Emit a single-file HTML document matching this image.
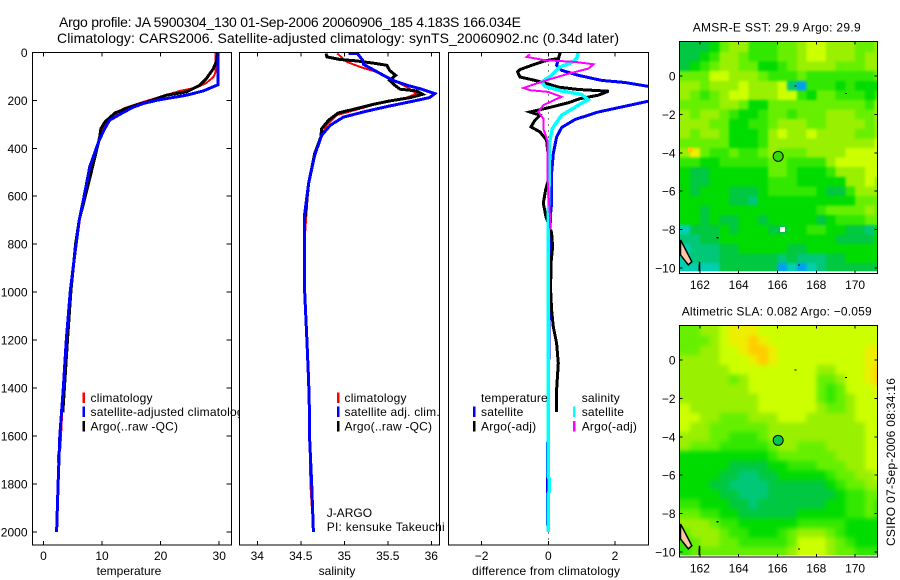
<!DOCTYPE html>
<html>
<head>
<meta charset="utf-8">
<title>Argo profile</title>
<style>
html,body{margin:0;padding:0;background:#fff;}
svg{display:block;}
text{font-family:"Liberation Sans",Arial,sans-serif;font-size:12px;fill:#000;}
.crisp{shape-rendering:crispEdges;}
.legend{letter-spacing:0.2px;}
</style>
</head>
<body>
<svg id="chart" xmlns="http://www.w3.org/2000/svg" width="900" height="580" viewBox="0 0 900 580">
  <defs>
    <clipPath id="clip-temp"><rect x="32.3" y="52.3" width="199" height="492.7"/></clipPath>
    <clipPath id="clip-sal"><rect x="239.3" y="52.3" width="200" height="492.7"/></clipPath>
    <clipPath id="clip-diff"><rect x="448.3" y="52.3" width="200" height="492.7"/></clipPath>
    <clipPath id="clip-sst"><rect x="679.3" y="41.7" width="198.4" height="229.5"/></clipPath>
    <clipPath id="clip-sla"><rect x="679.3" y="325.7" width="198.4" height="229.5"/></clipPath>
    <filter id="soft-sst" x="-10%" y="-10%" width="120%" height="120%" color-interpolation-filters="sRGB"><feGaussianBlur stdDeviation="1.3"/></filter>
    <filter id="soft-sla" x="-10%" y="-10%" width="120%" height="120%" color-interpolation-filters="sRGB"><feGaussianBlur stdDeviation="2.5"/></filter>
  </defs>
  <rect width="900" height="580" fill="#fff"/>
  <text x="59" y="27" style="font-size:14px" textLength="462" lengthAdjust="spacing">Argo profile: JA 5900304_130 01-Sep-2006 20060906_185 4.183S 166.034E</text>
  <text x="57" y="43" style="font-size:14px" textLength="562" lengthAdjust="spacing">Climatology: CARS2006. Satellite-adjusted climatology: synTS_20060902.nc (0.34d later)</text>
  <g id="layer-temp"></g>
  <g id="layer-sal"></g>
  <g id="layer-diff"></g>
  <g id="layer-sst"></g>
  <g id="layer-sla"></g>
  <text transform="translate(895,546) rotate(-90)" textLength="168" lengthAdjust="spacing">CSIRO 07-Sep-2006 08:34:16</text>
</svg>
<script>
// ---------- profile data ----------
const depthTicks = [0,200,400,600,800,1000,1200,1400,1600,1800,2000];
const tempTicks = [0,10,20,30];
const salTicks = [34,34.5,35,35.5,36];
const salTickLabels = ["34","34.5","35","35.5","36"];
const diffTicks = [-2,0,2];
const diffTickLabels = ["\u22122","0","2"];

const tempClimDepth = [0,60,82,103,128,147,161,186,211,235,270,304,353,492,700,1000,1400,1650,1680,1800,2000];
const tempClim = [29.4,29.4,29.4,29,27.8,26.1,23.3,19.9,16.5,13.6,11.6,10.5,9.6,7.9,6.2,4.6,3.4,2.9,2.5,2.6,2.25];
const tempSatDepth = [0,130,135,161,179,200,214,229,255,283,317,367,478,617,700,795,990,1198,1394,1600,1800,2000];
const tempSat = [29.8,29.8,29.8,27.3,24.4,19.3,17,15.3,13.3,11.3,10.5,9.5,7.9,6.8,6.1,5.6,4.6,3.9,3.4,2.8,2.5,2.25];
const tempArgoDepth = [0,33,68,110,137,165,179,207,228,253,290,318,353,436,575,700,795,990,1198,1394,1500];
const tempArgo = [29.7,29.6,29,27.8,26.7,24.4,21,17.6,14.8,12.2,10.5,9.8,9.6,8.8,7.4,6.1,5.5,4.7,4.1,3.6,3.3];

const salClimDepth = [5,40,61,82,110,145,172,189,207,235,262,304,346,429,547,800,1000,1200,1400,1600,1800,2000];
const salClim = [34.92,35.03,35.18,35.37,35.53,35.72,35.83,35.72,35.45,35.18,34.91,34.8,34.74,34.66,34.59,34.54,34.545,34.57,34.59,34.6,34.61,34.645];
const salSatDepth = [5,5.1,33,50,72,96,117,137,154,172,189,204,224,245,270,304,346,429,547,686,800,1000,1200,1367,1505,1600,1800,2000];
const salSat = [35.05,35.15,35.21,35.22,35.33,35.45,35.56,35.72,35.89,36.04,35.98,35.79,35.52,35.26,34.99,34.84,34.74,34.66,34.59,34.54,34.54,34.545,34.57,34.59,34.6,34.6,34.625,34.645];
const salArgoDepth = [5,19,30,36,45,54,75,96,117,137,154,161,175,189,203,217,238,253,283,318,353,422,547,686];
const salArgo = [34.79,34.8,34.95,35.14,35.33,35.49,35.52,35.59,35.52,35.58,35.64,35.83,35.9,35.76,35.52,35.33,35.1,34.93,34.82,34.74,34.73,34.66,34.59,34.55];

const diffTempSatDepth = [0,33,54,75,96,117,126,142,172,204,228,249,280,314,353,422,505,574,629,686,880,1200,1780,1950,2000];
const diffTempSat = [0.35,0.3,0.25,0.4,0.9,1.6,2.3,3,5,3,2.2,1.5,0.8,0.4,0.25,0.15,0.1,0.1,0.1,0.06,0.05,0.02,-0.03,-0.03,0];
const diffTempArgoDepth = [0,5,26,36,54,72,82,103,114,128,145,155,162,179,193,210,228,249,262,283,311,332,367,505,574,629,686,753,811,878,990,1074,1144,1213,1296,1408,1500];
const diffTempArgo = [0.35,0.35,0.3,-0.1,-0.5,-0.85,-0.92,-0.85,-0.5,-0.1,0.3,0.9,1.81,1.5,0.96,0.6,0.1,-0.55,-0.25,-0.4,-0.52,-0.25,-0.05,0.05,-0.08,-0.15,-0.07,0.1,0.13,0.08,0.07,0.1,0.15,0.25,0.3,0.25,0.25];
const diffSalSatDepth = [0,26,43,61,96,124,142,161,176,197,221,262,318,380,505,686,1000,1770,1780,1830,1840,2000];
const diffSalSat = [0.9,0.85,0.7,0.35,0.1,-0.2,-0.1,0.4,1,1.19,0.9,0.4,0.12,0.03,0.03,0,0,0,0.03,0.03,0,0];
const diffSalArgoDepth = [8,19,33,40,50,68,89,110,130,149,158,165,186,197,221,249,276,318,367,533,686,740];
const diffSalArgo = [-0.55,-0.65,-0.1,0.8,1.36,1.2,0.6,0.1,-0.35,-0.75,-0.55,0,0.4,0.2,-0.15,-0.3,-0.15,-0.15,-0.03,-0.02,0.05,0.06];

// ---------- map data ----------
const mapLons = [161.25,161.75,162.25,162.75,163.25,163.75,164.25,164.75,165.25,165.75,166.25,166.75,167.25,167.75,168.25,168.75,169.25,169.75,170.25,170.75,171.25];
const mapLats = [1.5,1,0.5,0,-0.5,-1,-1.5,-2,-2.5,-3,-3.5,-4,-4.5,-5,-5.5,-6,-6.5,-7,-7.5,-8,-8.5,-9,-9.5,-10];
const colorLevels = ["#0050d0","#00a0f0","#00d0b0","#00c878","#00c840","#00dc00","#33e800","#66f000","#99f000","#ccff00","#eeee00","#ffcc00"];
const lonTicks = [162,164,166,168,170];
const latTicks = [0,-2,-4,-6,-8,-10];
const latTickLabels = ["0","\u22122","\u22124","\u22126","\u22128","\u221210"];
const argoLon = 166.034;
const argoLat = -4.183;

const sstLevels = [
[4,4,4,5,7,8,8,6,6,6,7,7,8,9,9,8,8,8,7,7,8],
[4,4,5,6,8,8,7,6,6,6,7,7,8,9,9,8,8,8,7,8,8],
[4,5,6,7,8,8,7,7,5,5,6,7,8,8,8,8,7,7,7,8,8],
[7,7,7,9,9,8,8,8,7,6,6,6,7,6,6,6,6,6,6,6,7],
[8,8,7,8,8,8,9,8,8,8,9,3,1,6,6,6,5,6,5,5,5],
[8,7,6,7,8,9,9,8,8,8,9,9,6,5,7,7,6,6,6,5,6],
[7,7,7,7,8,8,7,5,5,7,7,7,7,7,7,7,7,7,7,6,8],
[8,7,8,8,7,6,5,5,6,7,7,6,7,7,7,8,8,8,7,7,8],
[8,8,8,7,7,5,5,6,6,7,8,8,8,7,7,8,8,8,8,7,8],
[8,7,8,8,7,5,5,5,6,8,9,8,8,9,8,8,8,8,7,7,8],
[7,7,7,7,7,5,5,5,6,8,8,8,8,8,8,8,8,8,8,8,9],
[8,10,7,6,6,7,6,6,7,8,7,7,7,8,8,8,8,9,9,9,9],
[6,6,5,5,6,6,6,6,6,7,7,6,6,6,6,8,9,9,9,9,9],
[5,4,4,5,5,5,5,5,5,7,7,6,5,5,5,6,8,8,8,9,9],
[5,4,4,5,5,5,5,5,5,6,6,6,5,5,5,5,5,8,8,9,8],
[5,4,5,5,5,4,4,4,5,6,6,6,6,6,5,4,4,6,8,8,8],
[5,5,5,5,5,4,4,3,5,5,5,5,5,5,5,5,5,5,7,7,7],
[5,5,4,5,5,5,5,5,5,5,5,5,5,5,6,7,7,7,7,8,7],
[5,5,4,5,4,4,5,5,4,5,5,5,5,5,4,5,6,6,6,7,7],
[2,4,4,4,5,4,5,5,5,4,4,5,5,6,6,5,5,4,4,3,5],
[3,3,4,4,5,5,5,5,5,5,5,5,5,5,5,5,4,4,4,4,5],
[2,3,3,3,4,4,5,5,5,5,5,4,4,5,5,5,5,5,5,5,5],
[2,3,3,3,4,4,4,4,4,4,3,4,3,3,3,4,4,5,5,5,5],
[2,2,2,2,4,4,4,4,4,4,1,2,1,2,3,4,4,4,4,4,4]
];
const slaLevels = [
[7,7,8,8,9,10,10,10,9,9,9,9,9,9,9,9,9,9,9,9,9],
[7,7,7,8,9,10,10,11,10,9,9,9,9,9,9,9,9,9,9,9,9],
[7,7,8,8,9,9,10,11,11,10,9,9,9,9,9,9,9,9,9,10,10],
[8,8,8,8,9,9,9,10,11,10,9,9,9,9,9,9,9,9,9,10,10],
[8,8,8,8,8,9,9,9,9,9,9,9,9,9,8,8,9,9,9,10,11],
[8,8,8,8,8,7,8,9,9,9,9,9,9,9,7,7,8,9,9,10,11],
[8,8,8,8,8,8,8,9,9,9,9,9,9,9,7,6,7,9,9,9,10],
[8,8,8,8,8,8,8,8,9,9,9,9,9,9,7,6,7,8,9,9,9],
[9,8,8,8,8,8,8,8,9,9,9,9,9,9,8,7,7,8,9,9,9],
[9,9,8,8,7,7,7,8,8,8,9,9,9,8,8,8,8,8,9,9,9],
[9,8,8,7,7,7,7,7,7,8,8,8,8,8,8,8,8,8,8,9,9],
[8,8,8,7,7,6,6,6,7,8,8,8,8,8,8,8,8,8,8,9,9],
[8,7,7,7,6,6,6,6,6,7,8,8,7,7,7,8,8,8,8,9,9],
[5,5,5,5,5,5,5,5,5,6,7,7,7,7,7,7,8,8,8,9,9],
[5,5,5,5,5,4,4,4,4,5,5,6,6,6,7,7,7,8,8,9,9],
[5,5,5,5,4,4,3,3,4,4,5,5,5,5,5,6,7,7,8,8,9],
[5,5,5,4,4,3,3,3,3,4,4,4,4,4,4,5,6,7,7,8,8],
[5,5,5,5,4,4,3,3,3,4,4,4,4,4,4,4,5,6,6,7,7],
[6,6,5,5,5,4,4,3,4,4,4,4,4,4,4,5,5,6,6,7,6],
[7,7,6,6,5,5,4,4,4,4,4,4,5,5,5,5,5,6,6,7,6],
[8,8,8,7,6,6,5,5,5,5,5,5,6,6,6,6,6,5,5,5,5],
[7,8,8,8,7,6,6,5,5,5,6,7,8,8,8,7,6,5,5,5,5],
[6,7,8,8,7,7,6,6,6,6,6,7,9,9,9,8,7,6,5,5,5],
[6,7,7,7,7,7,7,7,7,7,7,8,9,9,9,8,7,7,6,6,6]
];
const sstMissingLon = [166.25];
const sstMissingLat = [-8];
const sstSpotLon = [161.5];
const sstSpotLat = [-3.85];
const coastLon = [161,161.14,161.58,161.4,161.14,161];
const coastLat = [-8.54,-8.8,-9.67,-9.84,-9.5,-9.32];
const islandLon = [161.95,162.02,162.02,161.93,161.93];
const islandLat = [-9.65,-9.7,-10.2,-10.2,-9.9];
const speckLon = [166.94,169.53,162.9,167.1];
const speckLat = [-0.52,-0.9,-8.42,-9.84];

// ---------- helpers ----------
const NS = "http://www.w3.org/2000/svg";
function mk(parent, tag, attrs, txt){
  const el = document.createElementNS(NS, tag);
  for (const k in attrs) el.setAttribute(k, attrs[k]);
  if (txt !== undefined) el.textContent = txt;
  parent.appendChild(el);
  return el;
}
const yDepth = d => 52.3 + d * 0.2399;
function linScale(d0, d1, r0, r1){ return v => r0 + (v - d0) * (r1 - r0) / (d1 - d0); }

const xTemp = linScale(-1.9, 32.06, 32.3, 231.3);
const xSal = linScale(33.793, 36.092, 239.3, 439.3);
const xDiff = linScale(-3, 3, 448.3, 648.3);

function drawLine(g, xs, ds, xFn, color, width, clip, name){
  const pts = xs.map((v, i) => xFn(v).toFixed(1) + "," + yDepth(ds[i]).toFixed(1)).join(" ");
  const el = mk(g, "polyline", {points: pts, fill: "none", stroke: color, "stroke-width": width, "clip-path": "url(#" + clip + ")", class: "crisp"});
  
  
}
function drawFrame(g, x0, x1, y0, y1, name){
  const bg = mk(g, "rect", {x: x0, y: y0, width: x1 - x0, height: y1 - y0, fill: "none", stroke: "#000", "stroke-width": 1, class: "crisp"});
  
  
}
function drawXAxis(g, ticks, labels, xFn, y0, y1, labelY, name){
  ticks.forEach((t, i) => {
    const x = xFn(t);
    const tb = mk(g, "line", {x1: x, x2: x, y1: y1, y2: y1 - 4, stroke: "#000", class: "crisp"});
    
    
    const tt = mk(g, "line", {x1: x, x2: x, y1: y0, y2: y0 + 4, stroke: "#000", class: "crisp"});
    
    
    const lb = mk(g, "text", {x: x, y: labelY, "text-anchor": "middle"}, labels[i]);
    
    
  });
}
function drawLegend(g, tx, lx, rows, prefix){
  rows.forEach(r => {
    if (r.color) {
      const s = mk(g, "rect", {x: lx - 1, y: r.y - 9.5, width: 2.5, height: 10.5, fill: r.color, class: "crisp"});
      
      
    }
    const t = mk(g, "text", {x: tx, y: r.y, class: "legend"}, r.label);
    
    
  });
}
function addText(g, x, y, str, anchor, name){
  const t = mk(g, "text", {x: x, y: y, "text-anchor": anchor}, str);
  
  
  return t;
}

// ---------- temperature panel ----------
const gT = document.getElementById("layer-temp");
drawLine(gT, tempClim, tempClimDepth, xTemp, "#ff0000", 2, "clip-temp", "temperature-climatology-line");
drawLine(gT, tempArgo, tempArgoDepth, xTemp, "#000000", 3, "clip-temp", "temperature-argo-line");
drawLine(gT, tempSat, tempSatDepth, xTemp, "#0000ff", 3, "clip-temp", "temperature-satellite-line");
drawFrame(gT, 32.3, 231.3, 52.3, 545, "temperature-axes-box");
drawXAxis(gT, tempTicks, tempTicks.map(String), xTemp, 52.3, 545, 560, "temperature-x");
depthTicks.forEach(d => {
  const y = yDepth(d);
  const tl = mk(gT, "line", {x1: 32.3, x2: 37, y1: y, y2: y, stroke: "#000", class: "crisp"});
  
  
  const tr = mk(gT, "line", {x1: 231.3, x2: 226.5, y1: y, y2: y, stroke: "#000", class: "crisp"});
  
  
  addText(gT, 27.5, y + 4.5, String(d), "end", "depth-tick-label");
});
addText(gT, 129, 575, "temperature", "middle", "temperature-x-axis-title");
drawLegend(gT, 90.5, 83.5, [
  {y: 402, color: "#ff0000", label: "climatology"},
  {y: 416, color: "#0000ff", label: "satellite-adjusted climatology"},
  {y: 430.5, color: "#000000", label: "Argo(..raw -QC)"}
], "temperature");

// ---------- salinity panel ----------
const gS = document.getElementById("layer-sal");
const salBg = mk(gS, "rect", {x: 238.8, y: 50, width: 200.5, height: 500, fill: "#fff"});


drawLine(gS, salClim, salClimDepth, xSal, "#ff0000", 2, "clip-sal", "salinity-climatology-line");
drawLine(gS, salArgo, salArgoDepth, xSal, "#000000", 3, "clip-sal", "salinity-argo-line");
drawLine(gS, salSat, salSatDepth, xSal, "#0000ff", 3, "clip-sal", "salinity-satellite-line");
drawFrame(gS, 239.3, 439.3, 52.3, 545, "salinity-axes-box");
drawXAxis(gS, salTicks, salTickLabels, xSal, 52.3, 545, 560, "salinity-x");
addText(gS, 337, 575, "salinity", "middle", "salinity-x-axis-title");
drawLegend(gS, 344.5, 338, [
  {y: 402, color: "#ff0000", label: "climatology"},
  {y: 416, color: "#0000ff", label: "satellite adj. clim."},
  {y: 430.5, color: "#000000", label: "Argo(..raw -QC)"}
], "salinity");
addText(gS, 326.7, 517, "J-ARGO", "start", "float-program-label");
const piLabel = addText(gS, 326.7, 531, "PI: kensuke Takeuchi", "start", "principal-investigator-label");
piLabel.setAttribute("textLength", "118");
piLabel.setAttribute("lengthAdjust", "spacing");

// ---------- difference panel ----------
const gD = document.getElementById("layer-diff");
const zeroLine = mk(gD, "line", {x1: xDiff(0), x2: xDiff(0), y1: 52.3, y2: 545, stroke: "#000", "stroke-width": 1, "stroke-dasharray": "1 5", class: "crisp"});


drawLine(gD, diffTempSat, diffTempSatDepth, xDiff, "#0000ff", 3, "clip-diff", "difference-temperature-satellite-line");
drawLine(gD, diffTempArgo, diffTempArgoDepth, xDiff, "#000000", 3, "clip-diff", "difference-temperature-argo-line");
drawLine(gD, diffSalSat, diffSalSatDepth, xDiff, "#00ffff", 3.5, "clip-diff", "difference-salinity-satellite-line");
drawLine(gD, diffSalArgo, diffSalArgoDepth, xDiff, "#ff00ff", 2, "clip-diff", "difference-salinity-argo-line");
drawFrame(gD, 448.3, 648.3, 52.3, 545, "difference-axes-box");
drawXAxis(gD, diffTicks, diffTickLabels, xDiff, 52.3, 545, 560, "difference-x");
const diffTitle = addText(gD, 472, 575, "difference from climatology", "start", "difference-x-axis-title");
diffTitle.setAttribute("textLength", "148");
diffTitle.setAttribute("lengthAdjust", "spacing");
drawLegend(gD, 481, 474, [
  {y: 402, label: "temperature"},
  {y: 416, color: "#0000ff", label: "satellite"},
  {y: 430.5, color: "#000000", label: "Argo(-adj)"}
], "difference-temperature");
drawLegend(gD, 581.7, 574, [
  {y: 402, label: "salinity"},
  {y: 416, color: "#00ffff", label: "satellite"},
  {y: 430.5, color: "#ff00ff", label: "Argo(-adj)"}
], "difference-salinity");

// ---------- maps ----------
const xLon = lon => 777.5 + (lon - 166) * 19.4;
function drawMap(g, levels, y0Px, boxTop, boxBottom, clipId, filterId, prefix, titleStr, titleX, titleLen, titleY, dotColor){
  const yLat = lat => y0Px - lat * 19.2;
  const clipGroup = mk(g, "g", {"clip-path": "url(#" + clipId + ")"});
  
  
  const cells = mk(clipGroup, "g", {filter: "url(#" + filterId + ")", class: "crisp"});
  
  
  const nRows = levels.length;
  levels.forEach((row, r) => {
    const nCols = row.length;
    row.forEach((lev, c) => {
      let x0 = xLon(mapLons[c] - 0.25), x1 = xLon(mapLons[c] + 0.25) + 0.5;
      let y0 = yLat(mapLats[r] + 0.25), y1 = yLat(mapLats[r] - 0.25) + 0.5;
      if (c === 0) x0 -= 15;
      if (c === nCols - 1) x1 += 15;
      if (r === 0) y0 -= 15;
      if (r === nRows - 1) y1 += 15;
      const cell = mk(cells, "rect", {x: x0.toFixed(1), y: y0.toFixed(1), width: (x1 - x0).toFixed(1), height: (y1 - y0).toFixed(1), fill: colorLevels[lev]});
      
      
    });
  });
  const coast = mk(g, "polygon", {points: coastLon.map((v, i) => xLon(v).toFixed(1) + "," + yLat(coastLat[i]).toFixed(1)).join(" "), fill: "#ffc8a0", stroke: "#000", "stroke-width": 1.5, "clip-path": "url(#" + clipId + ")"});
  
  
  const isl = mk(g, "polygon", {points: islandLon.map((v, i) => xLon(v).toFixed(1) + "," + yLat(islandLat[i]).toFixed(1)).join(" "), fill: "#000", "clip-path": "url(#" + clipId + ")"});
  
  
  speckLon.forEach((lon, i) => {
    const sp = mk(g, "rect", {x: xLon(lon) - 1, y: yLat(speckLat[i]) - 0.5, width: 2, height: 1.2, fill: "#000", class: "crisp"});
    
    
  });
  const dot = mk(g, "circle", {cx: xLon(argoLon), cy: yLat(argoLat), r: 5, fill: dotColor, stroke: "#000", "stroke-width": 1});
  
  
  drawFrame(g, 679.3, 877.7, boxTop, boxBottom, prefix + '-axes-box');
  lonTicks.forEach(t => {
    const x = xLon(t);
    const b = mk(g, "line", {x1: x, x2: x, y1: boxBottom, y2: boxBottom - 3, stroke: "#000", class: "crisp"});
    
    
    const tp = mk(g, "line", {x1: x, x2: x, y1: boxTop, y2: boxTop + 3, stroke: "#000", class: "crisp"});
    
    
    addText(g, x, boxBottom + 15.5, String(t), "middle", prefix + "-lon-tick-label");
  });
  latTicks.forEach((t, i) => {
    const y = yLat(t);
    const l = mk(g, "line", {x1: 679.3, x2: 682.5, y1: y, y2: y, stroke: "#000", class: "crisp"});
    
    
    const rr = mk(g, "line", {x1: 877.7, x2: 874.5, y1: y, y2: y, stroke: "#000", class: "crisp"});
    
    
    addText(g, 675.5, y + 4.5, latTickLabels[i], "end", prefix + "-lat-tick-label");
  });
  const tt = addText(g, titleX, titleY, titleStr, "start", prefix + "-title");
  tt.setAttribute("textLength", titleLen);
  tt.setAttribute("lengthAdjust", "spacing");
  return yLat;
}
const gSst = document.getElementById("layer-sst");
const yLatSst = drawMap(gSst, sstLevels, 76, 41.7, 273.3, "clip-sst", "soft-sst", "sst", "AMSR-E SST: 29.9 Argo: 29.9", 692.7, 168, 31.5, "#33dd00");
sstMissingLon.forEach((lon, i) => {
  const m = mk(gSst, "rect", {x: xLon(lon) - 2.4, y: yLatSst(sstMissingLat[i]) - 2.4, width: 4.8, height: 4.8, fill: "#fff", class: "crisp"});
  
  
});
sstSpotLon.forEach((lon, i) => {
  const m = mk(gSst, "rect", {x: xLon(lon) - 2.4, y: yLatSst(sstSpotLat[i]) - 2.4, width: 4.8, height: 4.8, fill: "#ffc800", class: "crisp"});
  
  
});
const gSla = document.getElementById("layer-sla");
drawMap(gSla, slaLevels, 360, 325.7, 557, "clip-sla", "soft-sla", "sla", "Altimetric SLA: 0.082 Argo: \u22120.059", 681.7, 190, 315.5, "#00c850");
</script>
</body>
</html>
